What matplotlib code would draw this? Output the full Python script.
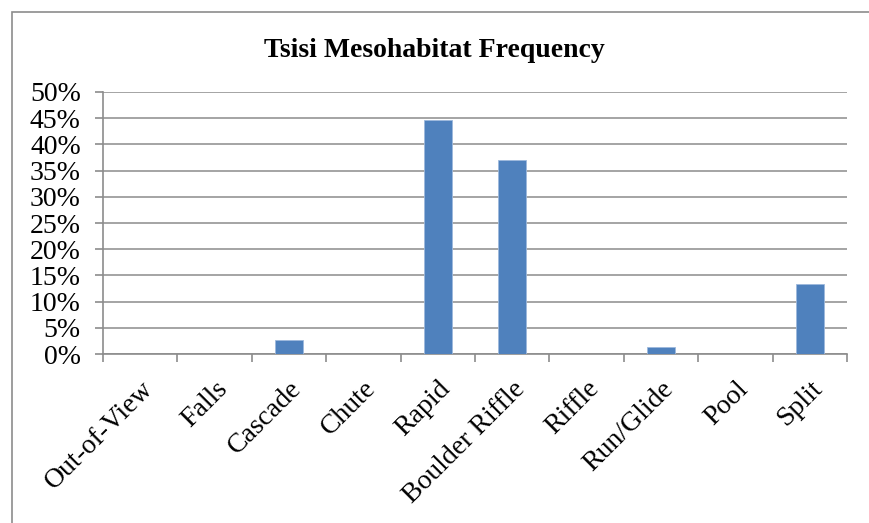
import numpy as np
import matplotlib.pyplot as plt
from matplotlib.patches import Rectangle
from matplotlib.ticker import PercentFormatter, MultipleLocator

habitats = ['Out-of-View', 'Falls', 'Cascade', 'Chute', 'Rapid',
            'Boulder Riffle', 'Riffle', 'Run/Glide', 'Pool', 'Split']
frequency = [0.0, 0.0, 2.7, 0.0, 44.7, 37.0, 0.0, 1.4, 0.0, 13.4]

plt.rcParams['font.family'] = ['Liberation Serif', 'DejaVu Serif']

fig = plt.figure(figsize=(8.69, 5.23), dpi=100)
ax = fig.add_axes([0.1185, 0.3231, 0.8562, 0.501])

# outer chart frame
fig.patches.append(Rectangle((12 / 869, -0.05), 1.2, 1 - 11.5 / 523 + 0.05,
                             transform=fig.transFigure, fill=False,
                             edgecolor='#8c8c8c', linewidth=1.2))

x = np.arange(len(habitats))
ax.bar(x, frequency, width=0.38, color='#4f81bd', edgecolor='#9db9dc',
       linewidth=0.6, zorder=3)

ax.set_xlim(-0.5, len(habitats) - 0.5)
ax.set_ylim(0, 50)
ax.yaxis.set_major_locator(MultipleLocator(5))
ax.yaxis.set_major_formatter(PercentFormatter(decimals=0))
ax.grid(axis='y', color='#8c8c8c', linewidth=1.1, zorder=0)

for side in ['top', 'right']:
    ax.spines[side].set_visible(False)
for side in ['left', 'bottom']:
    ax.spines[side].set_color('#8c8c8c')
    ax.spines[side].set_linewidth(1.2)

ax.set_xticks(x)
ax.set_xticklabels(habitats, rotation=45, ha='right', va='top',
                   rotation_mode='anchor', fontsize=20)
ax.tick_params(axis='x', length=0, pad=16)
ax.set_xticks(np.arange(-0.5, len(habitats)), minor=True)
ax.tick_params(axis='x', which='minor', length=6, width=1.2, color='#8c8c8c')
ax.tick_params(axis='y', length=6, width=1.2, color='#8c8c8c',
               labelsize=20, pad=10)

fig.text(0.5, 0.891, 'Tsisi Mesohabitat Frequency', ha='center',
         va='baseline', fontsize=20, fontweight='bold')

fig.savefig('out.png', dpi=100)
